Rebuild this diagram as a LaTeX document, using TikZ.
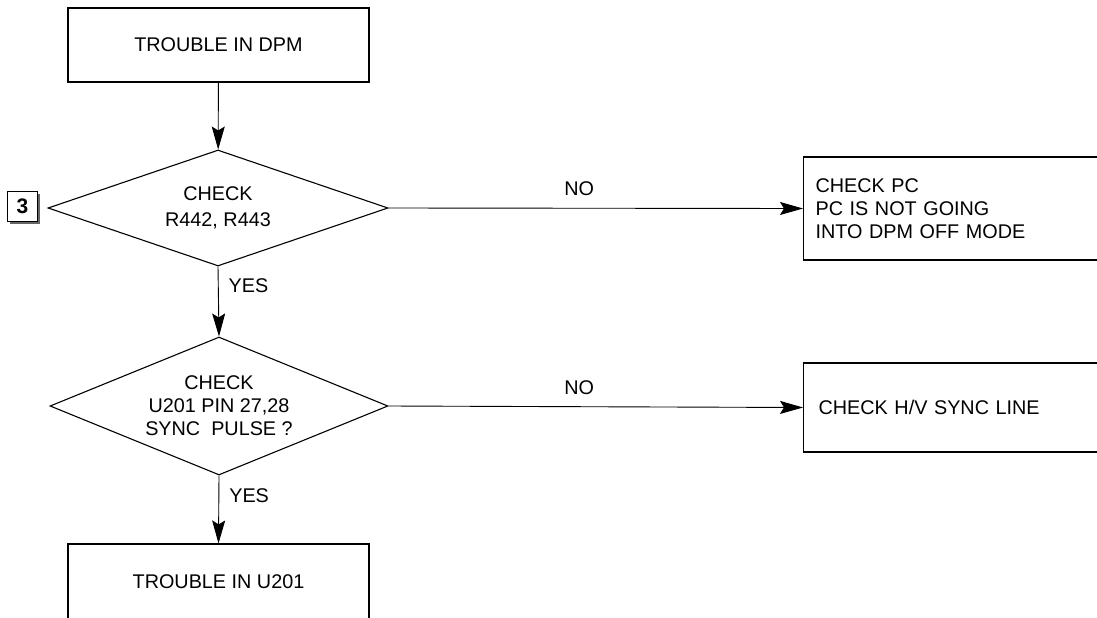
\documentclass[tikz,border=0pt]{standalone}
\usepackage{fontspec}
\setmainfont{Liberation Sans}
\usetikzlibrary{shapes.geometric,arrows.meta,shadows}

\tikzset{
	box/.style={draw,line width=1.1pt,inner sep=0pt},
	dia/.style={draw,diamond,line width=1.1pt,inner sep=0pt,align=center},
	arr/.style={line width=0.9pt,-{Stealth[length=23pt,width=13pt,inset=4pt]}},
	lab/.style={inner sep=0pt}
}

\begin{document}
\begin{tikzpicture}[x=1pt,y=-1pt,font=\fontsize{19.8}{23}\selectfont]
		\useasboundingbox (0,0) rectangle (1097,618);
		
		\node[box,minimum width=301pt,minimum height=74pt] (dpm) at (218.5,45) {TROUBLE IN DPM};
		
		\node[dia,minimum width=340pt,minimum height=116pt,shape aspect=2.9,font=\fontsize{19.8}{26}\selectfont] (r442) at (218,208) {CHECK\\R442, R443};
		
		\node[box,fill=white,minimum size=30pt,font=\fontsize{21}{23}\selectfont\bfseries,
			general shadow={shadow xshift=2.5pt,shadow yshift=-2.5pt,fill=black!60}] (three) at (22.5,206.5) {3};
		
		\node[dia,minimum width=338pt,minimum height=138pt,shape aspect=2.45] (u201) at (219,406) {CHECK\\U201 PIN 27,28\\SYNC\ \ PULSE ?};
		
		\node[box,minimum width=320pt,minimum height=103pt,anchor=west,align=left,text width=296pt,inner xsep=12pt] (pc) at (803,208.5) {CHECK PC\\PC IS NOT GOING\\INTO DPM OFF MODE};
		
		\node[box,minimum width=320pt,minimum height=89pt,anchor=west,align=left,text width=290pt,inner xsep=15pt] (sync) at (803,407.5) {CHECK H/V SYNC LINE};
		
		\node[box,minimum width=301pt,minimum height=76pt] (trbl) at (218.5,582) {TROUBLE IN U201};
		
		\draw[arr] (dpm) -- (r442);
		\draw[arr] (r442.east) -- node[lab,pos=0.46,above=12pt]{NO} (pc.west);
		\draw[arr] (r442.south) -- node[lab,pos=0.27,right=10pt]{YES} (u201.north);
		\draw[arr] (u201.east) -- node[lab,pos=0.46,above=12pt]{NO} (sync.west);
		\draw[arr] (u201.south) -- node[lab,pos=0.29,right=10pt]{YES} (trbl.north);
\end{tikzpicture}
\end{document}
